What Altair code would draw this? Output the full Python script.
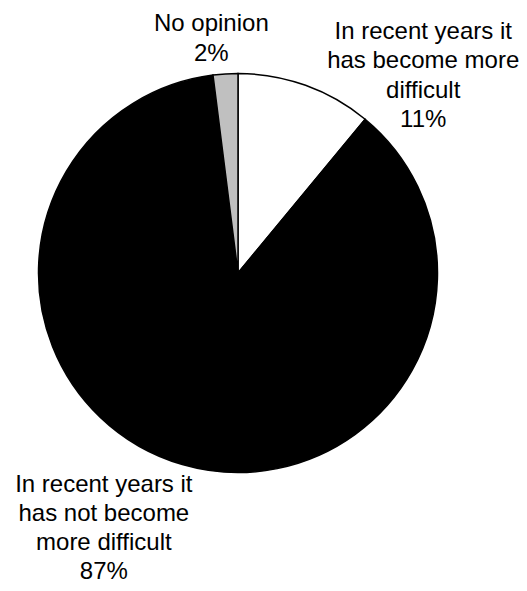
import altair as alt
import pandas as pd

categories = [
    "In recent years it has become more difficult",
    "In recent years it has not become more difficult",
    "No opinion",
]
values = [11, 87, 2]
label_lines = [
    ["In recent years it", "has become more", "difficult", "11%"],
    ["In recent years it", "has not become", "more difficult", "87%"],
    ["No opinion", "2%"],
]
colors = ["#ffffff", "#000000", "#c0c0c0"]

df = pd.DataFrame({
    "category": categories,
    "value": values,
    "order": list(range(len(categories))),
    "label": ["\n".join(l) for l in label_lines],
})

theta_scale = alt.Scale(domain=[0, 100])

base = alt.Chart(df).transform_window(
    cum="sum(value)", sort=[alt.SortField("order", order="ascending")],
    frame=[None, 0],
).transform_calculate(
    start="datum.cum - datum.value",
    mid="datum.cum - datum.value / 2",
)

pie = base.mark_arc(radius=199.5, stroke="#000000", strokeWidth=1.5).encode(
    theta=alt.Theta("start:Q", scale=theta_scale, stack=None),
    theta2="cum:Q",
    color=alt.Color("category:N", scale=alt.Scale(domain=categories, range=colors), legend=None),
)

font = "Liberation Sans"
label_style = [
    # (category, radius, dx, dy, lineHeight)
    (categories[0], 254.5, 99, -2, 29.5),
    (categories[1], 230, -70, -9, 29),
    (categories[2], 249, -11, 0, 29.5),
]

layers = [pie]
for cat, r, dx, dy, lh in label_style:
    layers.append(
        base.transform_filter(alt.datum.category == cat).mark_text(
            radius=r, dx=dx, dy=dy, font=font, fontSize=24, lineHeight=lh,
            lineBreak="\n", align="center", baseline="middle", color="#000000",
        ).encode(
            theta=alt.Theta("mid:Q", scale=theta_scale, stack=None),
            text="label:N",
        )
    )

chart = alt.layer(*layers).properties(
    width=460,
    height=530,
    autosize=alt.AutoSizeParams(type="none"),
    padding={"left": 0, "top": 0, "right": 51, "bottom": 45},
).configure_view(stroke=None)

chart.save("out.html", embed_options={"renderer": "svg", "actions": False})
